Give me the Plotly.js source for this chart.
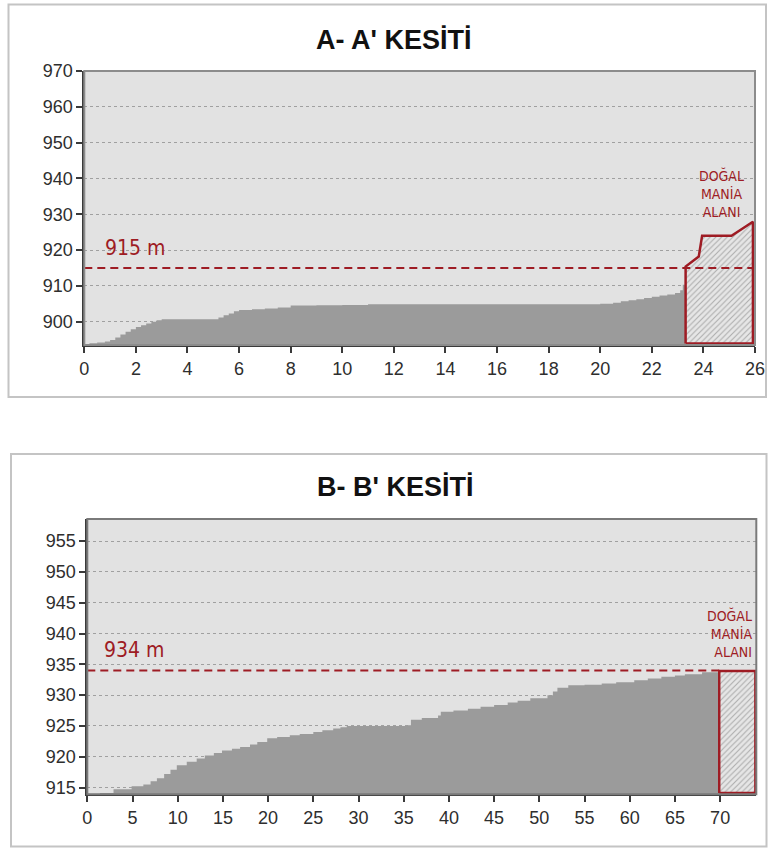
<!DOCTYPE html>
<html>
<head>
<meta charset="utf-8">
<script src="https://cdn.plot.ly/plotly-3.0.1.min.js"></script>
<style>html,body{margin:0;padding:0;background:#fff;}#chart{width:768px;height:849px;}</style>
</head>
<body>
<div id="chart"></div>
<script>
// ---- A-A' profile ----
const titleA = "A- A' KESİTİ";
const aDist = [0, 0.2, 0.5, 0.8, 1.0, 1.2, 1.4, 1.6, 1.8, 2.0, 2.2, 2.4, 2.6, 2.8, 3.0, 4.0, 5.0, 5.2, 5.4, 5.6, 5.8, 6.0, 6.5, 7.0, 7.5, 8.0, 9.0, 10.0, 11.0, 12, 14, 16, 18, 20, 20.5, 20.8, 21.1, 21.4, 21.7, 22.0, 22.3, 22.6, 22.9, 23.1, 23.2, 23.31];
const aElev = [893.8, 894.0, 894.2, 894.5, 894.9, 895.6, 896.4, 897.2, 897.9, 898.5, 899.0, 899.5, 900.0, 900.4, 900.7, 900.7, 900.7, 901.2, 901.8, 902.3, 902.9, 903.3, 903.5, 903.7, 904.0, 904.5, 904.6, 904.7, 904.9, 904.9, 904.9, 904.9, 904.9, 905.0, 905.3, 905.7, 906.0, 906.3, 906.6, 907.0, 907.3, 907.6, 908.0, 908.8, 910.3, 911.5];
const maniaAX = [23.31, 23.31, 23.82, 23.95, 25.09, 25.92, 25.92, 23.31];
const maniaAY = [893.9, 915.4, 918.2, 924.0, 924.0, 927.9, 893.9, 893.9];
const levelA = 915;
const levelALabel = "915 m";
const xTicksA = [0, 2, 4, 6, 8, 10, 12, 14, 16, 18, 20, 22, 24, 26];
const yTicksA = [900, 910, 920, 930, 940, 950, 960, 970];

// ---- B-B' profile ----
const titleB = "B- B' KESİTİ";
const bDist = [0, 1.4, 2.9, 4.9, 6.2, 7.0, 7.7, 8.5, 9.2, 9.9, 11.0, 12.1, 13.0, 14.0, 14.9, 16.0, 16.9, 18.0, 18.8, 19.9, 21.0, 22.4, 23.5, 25.0, 26.0, 27.2, 28.0, 28.7, 30, 32, 34, 35.4, 35.8, 37.0, 38.8, 39.1, 40.5, 42.1, 43.5, 45.0, 46.5, 47.6, 49.0, 50.9, 51.5, 52.0, 53.2, 55, 56.9, 58.5, 60.5, 62.0, 63.5, 65.0, 66.1, 68.0, 69.9];
const bElev = [913.9, 914.1, 914.7, 915.2, 915.5, 916.0, 916.5, 917.2, 917.9, 918.6, 919.2, 919.7, 920.2, 920.6, 921.0, 921.3, 921.6, 922.0, 922.4, 923.0, 923.2, 923.5, 923.7, 924.0, 924.3, 924.6, 924.8, 925.0, 925.0, 925.0, 925.0, 925.1, 926.0, 926.3, 926.7, 927.3, 927.5, 927.8, 928.1, 928.4, 928.8, 929.1, 929.5, 930.0, 930.6, 931.2, 931.6, 931.7, 931.9, 932.1, 932.4, 932.7, 933.0, 933.2, 933.4, 933.7, 933.9];
const maniaBX = [69.9, 69.9, 73.9, 73.9, 69.9];
const maniaBY = [914.1, 933.9, 933.9, 914.1, 914.1];
const levelB = 934;
const levelBLabel = "934 m";
const xTicksB = [0, 5, 10, 15, 20, 25, 30, 35, 40, 45, 50, 55, 60, 65, 70];
const yTicksB = [915, 920, 925, 930, 935, 940, 945, 950, 955];

const maniaLabel = "DOĞAL<br>MANİA<br>ALANI";

const RED = '#9e1c24';
const TERRAIN = '#9b9b9b';
const narrow = 'Liberation Sans Narrow, DejaVu Sans Condensed, sans-serif';

function terrain(x, y, xa, ya) {
  return {x: x, y: y, xaxis: xa, yaxis: ya, type: 'scatter', mode: 'lines',
    line: {width: 0, shape: 'hv', color: TERRAIN}, fill: 'tozeroy', fillcolor: TERRAIN,
    hoverinfo: 'skip', showlegend: false};
}
function mania(x, y, xa, ya) {
  return {x: x, y: y, xaxis: xa, yaxis: ya, type: 'scatter', mode: 'lines',
    line: {width: 2.5, color: RED}, fill: 'toself', fillcolor: '#e2e2e2',
    fillpattern: {shape: '/', bgcolor: '#e6e6e6', fgcolor: '#ababab', size: 4, solidity: 0.25},
    hoverinfo: 'skip', showlegend: false};
}
function level(x0, x1, v, xa, ya) {
  return {x: [x0, x1], y: [v, v], xaxis: xa, yaxis: ya, type: 'scatter', mode: 'lines',
    line: {width: 2, color: RED, dash: '8px,5px'}, hoverinfo: 'skip', showlegend: false};
}

const data = [
  terrain(aDist, aElev, 'x', 'y'),
  mania(maniaAX, maniaAY, 'x', 'y'),
  level(0, 26, levelA, 'x', 'y'),
  terrain(bDist, bElev, 'x2', 'y2'),
  mania(maniaBX, maniaBY, 'x2', 'y2'),
  level(0, 69.9, levelB, 'x2', 'y2')
];

const tickFont = {family: 'Liberation Sans, Arial, sans-serif', size: 18, color: '#2e2e2e'};
function xax(domain, range, ticks, anchor) {
  return {domain: domain, range: range, tickvals: ticks, ticktext: ticks.map(String), anchor: anchor,
    showgrid: false, zeroline: false, showline: true, linecolor: '#3a3a3a', linewidth: 2,
    ticks: 'outside', ticklen: 6, tickwidth: 2, tickcolor: '#3a3a3a', tickfont: tickFont, fixedrange: true};
}
function yax(domain, range, ticks, anchor) {
  return {domain: domain, range: range, tickvals: ticks, ticktext: ticks.map(String), anchor: anchor,
    showgrid: true, gridcolor: '#a0a0a0', griddash: 'dot', gridwidth: 1, zeroline: false,
    showline: true, linecolor: '#3a3a3a', linewidth: 2,
    ticks: 'outside', ticklen: 6, tickwidth: 2, tickcolor: '#3a3a3a', tickfont: tickFont, fixedrange: true};
}

const W = 768, H = 849;
const px = v => v / W, py = v => (H - v) / H;

const layout = {
  width: W, height: H,
  margin: {l: 0, r: 0, t: 0, b: 0},
  paper_bgcolor: '#ffffff', plot_bgcolor: '#e2e2e2',
  showlegend: false,
  xaxis: xax([px(84.3), px(755)], [0, 26], xTicksA, 'y'),
  yaxis: yax([py(345), py(71)], [893.5, 970], yTicksA, 'x'),
  xaxis2: xax([px(87.3), px(756.3)], [0, 74], xTicksB, 'y2'),
  yaxis2: yax([py(794.3), py(519)], [913.9, 958.6], yTicksB, 'x2'),
  shapes: [
    {type: 'rect', xref: 'paper', yref: 'paper', x0: px(8.5), x1: px(766), y0: py(397), y1: py(4.5),
      line: {color: '#c4c4c4', width: 2}, fillcolor: 'rgba(0,0,0,0)', layer: 'below'},
    {type: 'rect', xref: 'paper', yref: 'paper', x0: px(11), x1: px(766.5), y0: py(846.5), y1: py(454),
      line: {color: '#c4c4c4', width: 2}, fillcolor: 'rgba(0,0,0,0)', layer: 'below'},
    {type: 'rect', xref: 'x domain', yref: 'y domain', x0: 0, x1: 1, y0: 0, y1: 1,
      line: {color: '#8c8c8c', width: 2}, fillcolor: 'rgba(0,0,0,0)', layer: 'above'},
    {type: 'rect', xref: 'x2 domain', yref: 'y2 domain', x0: 0, x1: 1, y0: 0, y1: 1,
      line: {color: '#7a7a7a', width: 2}, fillcolor: 'rgba(0,0,0,0)', layer: 'above'}
  ],
  annotations: [
    {text: '<b>' + titleA + '</b>', xref: 'paper', yref: 'paper', x: px(393), y: py(40),
      xanchor: 'center', yanchor: 'middle', showarrow: false,
      font: {family: 'Liberation Sans, Arial, sans-serif', size: 27, color: '#111'}},
    {text: '<b>' + titleB + '</b>', xref: 'paper', yref: 'paper', x: px(395), y: py(487),
      xanchor: 'center', yanchor: 'middle', showarrow: false,
      font: {family: 'Liberation Sans, Arial, sans-serif', size: 27, color: '#111'}},
    {text: levelALabel, xref: 'x', yref: 'y', x: 0.72, y: 920.6, xanchor: 'left', yanchor: 'middle',
      showarrow: false, font: {family: narrow, size: 21, color: RED}},
    {text: maniaLabel, xref: 'x', yref: 'y', x: 24.72, y: 935.7, xanchor: 'center', yanchor: 'middle',
      align: 'center', showarrow: false, font: {family: narrow, size: 14, color: RED}},
    {text: levelBLabel, xref: 'x2', yref: 'y2', x: 1.6, y: 937.3, xanchor: 'left', yanchor: 'middle',
      showarrow: false, font: {family: narrow, size: 21, color: RED}},
    {text: maniaLabel, xref: 'x2', yref: 'y2', x: 73.7, y: 940.06, xanchor: 'right', yanchor: 'middle',
      align: 'right', showarrow: false, font: {family: narrow, size: 14, color: RED}}
  ]
};

Plotly.newPlot('chart', data, layout, {staticPlot: true, displayModeBar: false});
</script>
</body>
</html>
